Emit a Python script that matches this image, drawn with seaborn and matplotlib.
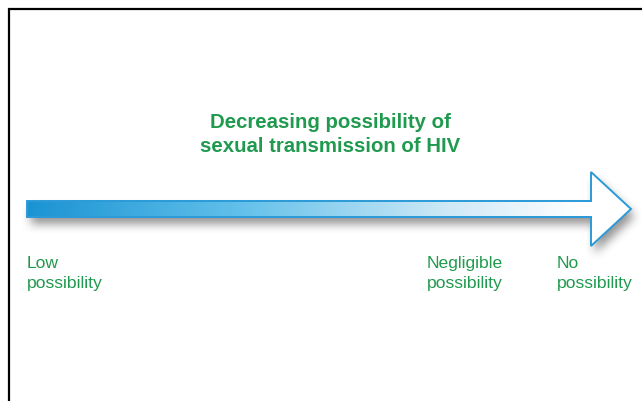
import numpy as np
import matplotlib.pyplot as plt
import seaborn as sns
from matplotlib.path import Path
from matplotlib.patches import PathPatch
from matplotlib.colors import LinearSegmentedColormap

sns.set_theme(style="white")
plt.rcParams['font.family'] = ['Liberation Sans', 'DejaVu Sans']

# canvas in pixel units
W, H = 642, 401

title_lines = ["Decreasing possibility of", "sexual transmission of HIV"]
title_y = [123, 147]
scale_labels = ["Low\npossibility", "Negligible\npossibility", "No\npossibility"]
scale_x = [27, 427, 557]

# arrow outline (shaft + head), pixel coords, y pointing down
arrow_x = [27, 591, 591, 631, 591, 591, 27, 27]
arrow_y = [201, 201, 172, 209, 246, 217, 217, 201]

green = "#1f9a4e"
blue_edge = "#2a9ad8"

fig = plt.figure(figsize=(W / 100, H / 100), dpi=100)
ax = fig.add_axes([0, 0, 1, 1])
ax.set_xlim(0, W)
ax.set_ylim(H, 0)
ax.axis("off")

# frame (only top and left edges visible)
ax.plot([9, 9, W + 5], [H + 5, 9, 9], color="black", lw=1.6, solid_joinstyle="miter")

verts = np.column_stack([arrow_x, arrow_y])
path = Path(verts, closed=True)

# blurred drop shadow
gx, gy = np.meshgrid(np.arange(W) + 0.5, np.arange(H) + 0.5)
dx, dy = 4, 7
inside = path.contains_points(np.column_stack([gx.ravel() - dx, gy.ravel() - dy]))
mask = inside.reshape(H, W).astype(float)
k = np.ones(11) / 11
for _ in range(2):
    mask = np.apply_along_axis(lambda r: np.convolve(r, k, mode="same"), 1, mask)
    mask = np.apply_along_axis(lambda c: np.convolve(c, k, mode="same"), 0, mask)
shadow = np.zeros((H, W, 4))
shadow[..., :3] = 0.4
shadow[..., 3] = mask * 0.7
ax.imshow(shadow, extent=(0, W, H, 0), zorder=1, interpolation="bilinear")

# gradient fill clipped to the arrow
patch = PathPatch(path, facecolor="none", edgecolor=blue_edge, lw=1.4, zorder=3)
ax.add_patch(patch)
cmap = LinearSegmentedColormap.from_list(
    "arrow", [(0, "#1b93d3"), (0.35, "#62c0ea"), (0.7, "#cfe9f7"), (0.92, "#ffffff"), (1, "#ffffff")])
grad = np.linspace(0, 1, 400).reshape(1, -1)
im = ax.imshow(grad, cmap=cmap, extent=(27, 631, 247, 171), aspect="auto", zorder=2)
im.set_clip_path(patch)
ax.set_xlim(0, W)
ax.set_ylim(H, 0)

for line, y in zip(title_lines, title_y):
    ax.text(330, y, line, ha="center", va="center", fontsize=14.7,
            fontweight="bold", color=green, zorder=4)

for lab, x in zip(scale_labels, scale_x):
    ax.text(x, 256, lab, ha="left", va="top", fontsize=12.6, color=green,
            linespacing=1.42, zorder=4)

fig.savefig("out.png", dpi=100, facecolor="white")
